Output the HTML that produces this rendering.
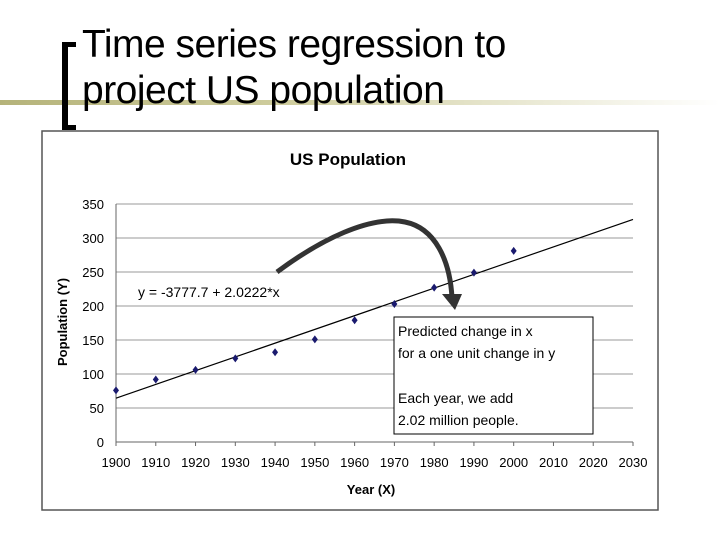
<!DOCTYPE html>
<html><head><meta charset="utf-8"><style>
body{margin:0;width:720px;height:540px;background:#fff;overflow:hidden;font-family:"Liberation Sans",sans-serif;position:relative}
</style></head><body>
<div style="position:absolute;left:0;top:100px;width:720px;height:5px;background:linear-gradient(90deg,#b5b37a 0%,#cfcd9e 40%,#fff 100%)"></div>
<div style="position:absolute;left:62px;top:42px;width:6px;height:88px;background:#000"></div>
<div style="position:absolute;left:62px;top:42px;width:14px;height:5px;background:#000"></div>
<div style="position:absolute;left:62px;top:125px;width:14px;height:5px;background:#000"></div>
<div style="position:absolute;left:82px;top:22px;font-size:39px;line-height:46px;color:#000;letter-spacing:-0.5px">Time series regression to<br>project US population</div>
<svg width="720" height="540" style="position:absolute;left:0;top:0">
<rect x="42" y="131" width="616" height="379" fill="#fff" stroke="#555" stroke-width="1.5"/>
<text x="348" y="165" text-anchor="middle" font-size="17" font-weight="bold">US Population</text>
<g id="grid"></g><g id="axes"></g><g id="marks"></g>
<text x="371" y="494" text-anchor="middle" font-size="13" font-weight="bold">Year (X)</text>
<text transform="translate(67,322) rotate(-90)" text-anchor="middle" font-size="13" font-weight="bold">Population (Y)</text>
<text x="138" y="297" font-size="14">y = -3777.7 + 2.0222*x</text>
<path d="M277,272 C320,240 370,215 405,222 C435,228 450,260 452,298" fill="none" stroke="#333" stroke-width="5"/>
<polygon points="442,294 462,294 455,310" fill="#333"/>
<rect x="394" y="317" width="199" height="117" fill="#fff" stroke="#000"/>
<text font-size="14"><tspan x="398" y="336">Predicted change in x</tspan><tspan x="398" y="358">for a one unit change in y</tspan><tspan x="398" y="403">Each year, we add</tspan><tspan x="398" y="425">2.02 million people.</tspan></text>
</svg>
<script>
const years=[1900,1910,1920,1930,1940,1950,1960,1970,1980,1990,2000];
const pop=[76,92,106,123,132,151,179,203,227,249,281];
const yTicks=[0,50,100,150,200,250,300,350];
const xTicks=[1900,1910,1920,1930,1940,1950,1960,1970,1980,1990,2000,2010,2020,2030];
const intercept=-3777.7, slope=2.0222;
const NS='http://www.w3.org/2000/svg';
const X=v=>116+(v-1900)*(633-116)/130;
const Y=v=>442-v*(442-204)/350;
function mk(t,a,p){const e=document.createElementNS(NS,t);for(const k in a)e.setAttribute(k,a[k]);document.getElementById(p).appendChild(e);return e;}
yTicks.forEach(v=>{
 if(v>0){const l=mk('line',{x1:X(1900),x2:X(2030),y1:Y(v),y2:Y(v),stroke:'#999','stroke-width':1},'grid');
 
 }
 const t=mk('text',{x:104,y:Y(v)+5,'text-anchor':'end','font-size':13},'axes');t.textContent=v;
 
 
});
xTicks.forEach(v=>{
 const t=mk('text',{x:X(v),y:467,'text-anchor':'middle','font-size':13},'axes');t.textContent=v;
 
 
 const k=mk('line',{x1:X(v),x2:X(v),y1:Y(0),y2:Y(0)+4,stroke:'#666'},'axes');
 
 
});
const ax=mk('path',{d:`M${X(1900)},${Y(350)}V${Y(0)}H${X(2030)}`,fill:'none',stroke:'#666'},'axes');


const f=x=>intercept+slope*x;
const rl=mk('line',{x1:X(1900),y1:Y(f(1900)),x2:X(2030),y2:Y(f(2030)),stroke:'#000','stroke-width':1.2},'marks');


years.forEach((yr,i)=>{
 const x=X(yr),y=Y(pop[i]);
 const p=mk('polygon',{points:`${x},${y-4} ${x+3},${y} ${x},${y+4} ${x-3},${y}`,fill:'#1a1a6e'},'marks');
 
 
});
</script>
</body></html>
